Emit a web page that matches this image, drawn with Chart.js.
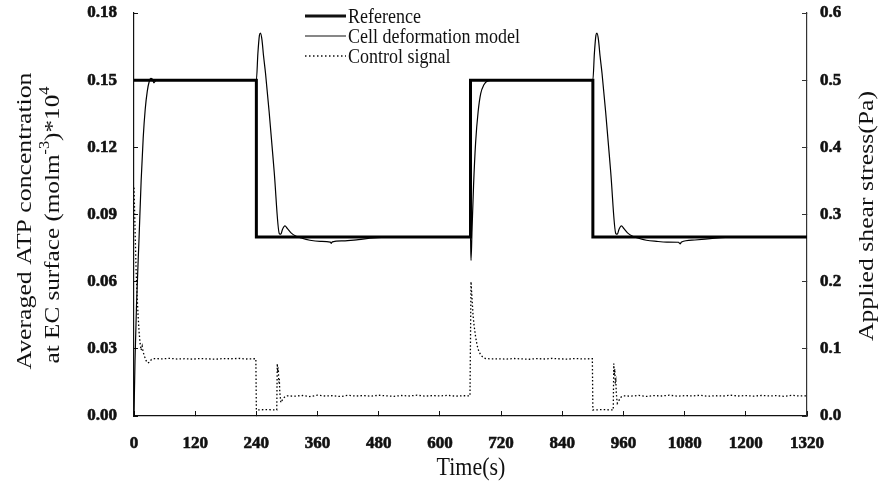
<!DOCTYPE html>
<html>
<head>
<meta charset="utf-8">
<script src="https://cdn.jsdelivr.net/npm/chart.js@4.4.1/dist/chart.umd.min.js"></script>
<style>
  html, body { margin: 0; padding: 0; background: #fff; }
  #wrap { width: 884px; height: 490px; position: relative; }
</style>
</head>
<body>
<div id="wrap"><canvas id="atpChart"></canvas></div>
<script>
// time ticks
const timeTicks = [0, 120, 240, 360, 480, 600, 720, 840, 960, 1080, 1200, 1320];

// Reference (left axis)
const refT = [0, 240, 240, 660, 660, 900, 900, 1320];
const refY = [0.15, 0.15, 0.08, 0.08, 0.15, 0.15, 0.08, 0.08];

// Cell deformation model (left axis)
const modelT = [0, 2, 5, 10, 14, 18, 22, 26, 30, 33, 36, 39, 42, 48, 60, 240,
  243, 246, 248, 251, 254, 258, 265, 275, 285, 288, 291, 296, 301, 308, 318, 328,
  345, 365, 385, 387, 389, 410, 440, 470, 500, 530, 660,
  661, 663, 666, 670, 675, 680, 686, 694, 705, 900,
  903, 906, 908, 911, 914, 918, 925, 935, 945, 948, 951, 956, 961, 968, 978, 988,
  1005, 1025, 1045, 1068, 1071, 1074, 1100, 1130, 1160, 1190, 1320];
const modelY = [0, 0.025, 0.05, 0.08, 0.105, 0.124, 0.137, 0.145, 0.1495, 0.1508, 0.1505, 0.1488, 0.1497, 0.1502, 0.15, 0.15,
  0.162, 0.17, 0.171, 0.168, 0.161, 0.153, 0.136, 0.109, 0.0815, 0.0812, 0.0832, 0.0849, 0.0837, 0.0818, 0.0803, 0.0795,
  0.0785, 0.078, 0.0777, 0.0771, 0.0778, 0.0782, 0.0788, 0.0795, 0.0799, 0.08, 0.08,
  0.0695, 0.083, 0.103, 0.122, 0.136, 0.144, 0.1478, 0.1497, 0.15, 0.15,
  0.162, 0.17, 0.171, 0.168, 0.161, 0.153, 0.136, 0.109, 0.0815, 0.0812, 0.0832, 0.0849, 0.0837, 0.0818, 0.0803, 0.0795,
  0.0785, 0.078, 0.0777, 0.0776, 0.0769, 0.0777, 0.0786, 0.0792, 0.0798, 0.08, 0.08];

// Control signal (right axis, Pa)
const controlT = [0, 2, 4, 6, 8, 10, 12, 14, 16, 18, 21, 24, 27, 30, 34, 40,
  55, 70, 85, 100, 115, 130, 145, 160, 175, 190, 205, 220, 239,
  240, 260, 280, 281, 282, 283, 284, 285, 286, 287, 288, 291, 295, 300,
  315, 330, 345, 360, 375, 390, 405, 420, 435, 450, 465, 480, 495, 510, 525, 540,
  555, 570, 585, 600, 615, 630, 645, 659,
  661, 663, 665, 667, 670, 673, 676, 680, 685, 690, 700,
  715, 730, 745, 760, 775, 790, 805, 820, 835, 850, 865, 880, 899,
  900, 920, 940, 941, 942, 943, 944, 945, 946, 947, 948, 951, 955, 960,
  975, 990, 1005, 1020, 1035, 1050, 1065, 1080, 1095, 1110, 1125, 1140, 1155,
  1170, 1185, 1200, 1215, 1230, 1245, 1260, 1275, 1290, 1305, 1320];
const controlY = [0.34, 0.28, 0.22, 0.18, 0.15, 0.125, 0.108, 0.098, 0.104, 0.095, 0.088, 0.082, 0.079, 0.08, 0.084, 0.0855,
  0.085, 0.0858, 0.0848, 0.0853, 0.0847, 0.0856, 0.085, 0.0846, 0.0855, 0.0852, 0.0858, 0.0849, 0.0853,
  0.009, 0.0095, 0.009, 0.078, 0.065, 0.072, 0.05, 0.055, 0.035, 0.028, 0.02, 0.024, 0.028, 0.03,
  0.0295, 0.0305, 0.029, 0.031, 0.0298, 0.0303, 0.029, 0.0308, 0.0297, 0.0304, 0.0295, 0.0309, 0.03, 0.0293, 0.0305, 0.0298,
  0.031, 0.0296, 0.0303, 0.0299, 0.0307, 0.0296, 0.0302, 0.03,
  0.2, 0.175, 0.15, 0.135, 0.118, 0.105, 0.097, 0.091, 0.087, 0.0855, 0.085,
  0.0852, 0.0847, 0.0856, 0.085, 0.0845, 0.0855, 0.0849, 0.0857, 0.0851, 0.0846, 0.0855, 0.085, 0.0853,
  0.009, 0.0095, 0.009, 0.078, 0.062, 0.07, 0.048, 0.052, 0.034, 0.025, 0.019, 0.023, 0.028, 0.03,
  0.0296, 0.0306, 0.0291, 0.0304, 0.0298, 0.031, 0.0295, 0.0303, 0.0299, 0.0308, 0.0294, 0.0302, 0.0297,
  0.0309, 0.0298, 0.0304, 0.0295, 0.0306, 0.0299, 0.0303, 0.0293, 0.0308, 0.0298, 0.0301, 0.03];

const serif = "'Liberation Serif', 'Times New Roman', serif";
const STRETCH = 1.17; // the figure's lettering is taller than it is wide

const pts = (xs, ys) => xs.map((x, i) => ({ x: x, y: ys[i] }));

// draw a horizontal string stretched vertically
function tallText(ctx, text, x, y) {
  ctx.save();
  ctx.translate(x, y);
  ctx.scale(1, STRETCH);
  ctx.fillText(text, 0, 0);
  ctx.restore();
}

// rotated title, reading bottom to top, with optional superscripts
function rotText(ctx, cx, cy, parts, size) {
  ctx.save();
  ctx.translate(cx, cy);
  ctx.rotate(-Math.PI / 2);
  ctx.scale(STRETCH, 1);
  ctx.textAlign = 'left';
  ctx.textBaseline = 'middle';
  let total = 0;
  parts.forEach(p => {
    ctx.font = (p.sup ? Math.round(size * 0.65) : size) + 'px ' + serif;
    p.w = ctx.measureText(p.t).width;
    total += p.w;
  });
  let x = -total / 2;
  parts.forEach(p => {
    ctx.font = (p.sup ? Math.round(size * 0.65) : size) + 'px ' + serif;
    ctx.fillText(p.t, x, p.sup ? -size * 0.36 : 0);
    x += p.w;
  });
  ctx.restore();
}

// legend + axis titles
const textPlugin = {
  id: 'textPlugin',
  afterDraw(chart) {
    const ctx = chart.ctx;
    ctx.save();
    ctx.fillStyle = '#111';
    ctx.strokeStyle = '#111';

    const items = [
      { label: 'Reference', w: 3, dash: [] },
      { label: 'Cell deformation model', w: 1.2, dash: [] },
      { label: 'Control signal', w: 1.3, dash: [1.5, 2.5] }
    ];
    ctx.font = '18px ' + serif;
    ctx.textBaseline = 'middle';
    ctx.textAlign = 'left';
    items.forEach((it, i) => {
      const y = 16 + i * 20;
      ctx.lineWidth = it.w;
      ctx.setLineDash(it.dash);
      ctx.beginPath();
      ctx.moveTo(305, y);
      ctx.lineTo(346, y);
      ctx.stroke();
      tallText(ctx, it.label, 348, y + 1);
    });
    ctx.setLineDash([]);

    ctx.textAlign = 'center';
    ctx.font = '22px ' + serif;
    tallText(ctx, 'Time(s)', 471, 468);

    rotText(ctx, 25, 221, [{ t: 'Averaged ATP concentration' }], 22);
    rotText(ctx, 53, 225, [{ t: 'at EC surface (molm' }, { t: '-3', sup: true }, { t: ')*10' }, { t: '4', sup: true }], 21.5);
    rotText(ctx, 867, 216, [{ t: 'Applied shear stress(Pa)' }], 22);
    ctx.restore();
  }
};

const tickFont = { family: serif, size: 17, weight: 'bold' };
const tickStroke = { textStrokeColor: '#111', textStrokeWidth: 0.6 };

new Chart(document.getElementById('atpChart'), {
  type: 'line',
  data: {
    datasets: [
      {
        label: 'Reference',
        data: pts(refT, refY),
        borderColor: '#000',
        borderWidth: 3,
        yAxisID: 'y'
      },
      {
        label: 'Cell deformation model',
        data: pts(modelT, modelY),
        borderColor: '#000',
        borderWidth: 1.2,
        cubicInterpolationMode: 'monotone',
        yAxisID: 'y'
      },
      {
        label: 'Control signal',
        data: pts(controlT, controlY),
        borderColor: '#000',
        borderWidth: 1.3,
        borderDash: [1.5, 2.2],
        yAxisID: 'y1'
      }
    ]
  },
  options: {
    responsive: true,
    maintainAspectRatio: false,
    animation: false,
    devicePixelRatio: 1,
    elements: { point: { radius: 0 }, line: { tension: 0 } },
    layout: { padding: { top: 13, left: 0, right: 0, bottom: 0 } },
    plugins: {
      legend: { display: false },
      tooltip: { enabled: false }
    },
    scales: {
      x: {
        type: 'linear',
        min: 0,
        max: 1320,
        afterBuildTicks: s => { s.ticks = timeTicks.map(v => ({ value: v })); },
        afterFit: s => { s.height = 74; s.paddingLeft = 0; s.paddingRight = 0; },
        border: { display: true, color: '#111', width: 1.2 },
        grid: { drawOnChartArea: false, drawTicks: true, tickLength: -5, tickColor: '#111' },
        ticks: { font: tickFont, color: '#111', padding: 22, maxRotation: 0, autoSkip: false, callback: v => String(v), ...tickStroke }
      },
      y: {
        position: 'left',
        min: 0,
        max: 0.18,
        afterFit: s => { s.width = 134; s.paddingTop = 0; s.paddingBottom = 0; },
        border: { display: true, color: '#111', width: 1.2 },
        grid: { drawOnChartArea: false, drawTicks: true, tickLength: -4, tickColor: '#111' },
        ticks: { stepSize: 0.03, font: tickFont, color: '#111', padding: 21, callback: v => v.toFixed(2), ...tickStroke }
      },
      y1: {
        position: 'right',
        min: 0,
        max: 0.6,
        afterFit: s => { s.width = 77; s.paddingTop = 0; s.paddingBottom = 0; },
        border: { display: true, color: '#333', width: 1.2 },
        grid: { drawOnChartArea: false, drawTicks: true, tickLength: -5, tickColor: '#333' },
        ticks: { stepSize: 0.1, font: tickFont, color: '#111', padding: 18, callback: v => v.toFixed(1), ...tickStroke }
      }
    }
  },
  plugins: [textPlugin]
});
</script>
</body>
</html>
